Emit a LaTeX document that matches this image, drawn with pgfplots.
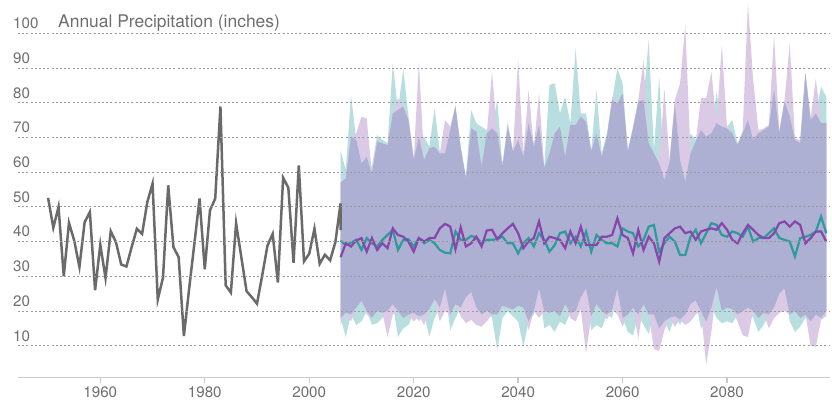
\documentclass[border=0pt]{standalone}
\usepackage{pgfplots}
\usepackage{pgfplotstable}
\pgfplotsset{compat=1.18}
\usepgfplotslibrary{fillbetween}
\usepackage{fontspec}
\setmainfont{TeX Gyre Heros}
\definecolor{histgray}{HTML}{6A6A6A}
\definecolor{tealline}{HTML}{2E9A9C}
\definecolor{purpline}{HTML}{8646AC}
\definecolor{tealband}{HTML}{B8DEDF}
\definecolor{purpband}{HTML}{DBCAE5}
\definecolor{overband}{HTML}{ADB0D2}
\definecolor{gridc}{HTML}{9A9A9A}
\definecolor{labelc}{HTML}{6E6E6E}
\definecolor{axisc}{HTML}{C8C8C8}

\pgfplotstableread{
year val
1950 52.6
1951 44.0
1952 50.0
1953 30.0
1954 45.4
1955 40.3
1956 32.7
1957 45.6
1958 48.5
1959 26.0
1960 39.1
1961 29.5
1962 43.0
1963 39.8
1964 33.4
1965 32.8
1966 38.4
1967 43.7
1968 42.2
1969 51.4
1970 56.7
1971 23.3
1972 29.6
1973 56.2
1974 38.4
1975 35.5
1976 12.8
1977 26.3
1978 39.3
1979 52.4
1980 32.0
1981 49.0
1982 52.4
1983 78.9
1984 27.4
1985 25.3
1986 45.3
1987 35.5
1988 25.7
1989 24.0
1990 22.1
1991 30.3
1992 38.8
1993 42.2
1994 28.2
1995 58.4
1996 55.5
1997 33.9
1998 61.9
1999 34.3
2000 36.5
2001 43.7
2002 33.6
2003 36.2
2004 34.6
2005 39.8
2006 51.0
2006 43.3
}\hist

% tu/tl: teal band, pu/pl: purple band, du/dl: edges of the region where both overlap
\pgfplotstableread{
year tu pu tl pl tm pm du dl
2006 66.4 57.0 18.0 16.0 40.3 35.5 57.0 18.0
2007 60.6 58.2 12.5 19.5 39.0 39.5 58.2 19.5
2008 82.2 70.2 19.0 17.0 39.7 38.6 70.2 19.0
2009 69.3 71.2 16.0 21.0 40.5 40.3 69.3 21.0
2010 62.5 76.0 17.0 23.0 37.6 41.0 62.5 23.0
2011 64.4 75.5 20.0 19.0 41.0 37.1 64.4 20.0
2012 61.6 59.6 16.0 18.0 39.5 41.0 59.6 18.0
2013 70.7 68.8 16.5 20.0 38.6 37.6 68.8 20.0
2014 69.3 68.3 18.0 19.5 40.5 39.5 68.3 19.5
2015 68.3 67.8 20.0 12.5 41.9 38.1 67.8 20.0
2016 91.3 76.9 22.0 19.0 43.4 43.8 76.9 22.0
2017 77.9 81.3 12.5 20.0 37.6 41.9 77.9 20.0
2018 89.9 78.9 15.0 18.0 40.5 41.4 78.9 18.0
2019 76.0 75.0 16.0 19.0 40.7 40.0 75.0 19.0
2020 64.4 63.5 19.5 17.0 38.6 37.1 63.5 19.5
2021 70.2 91.8 17.0 18.5 41.0 41.0 70.2 18.5
2022 70.2 63.5 19.0 16.0 39.5 40.0 63.5 19.0
2023 67.3 66.9 12.6 20.5 40.5 41.0 66.9 20.5
2024 78.4 67.3 18.0 23.5 39.5 41.0 67.3 23.5
2025 65.9 65.4 21.0 17.0 37.6 43.8 65.4 21.0
2026 65.4 75.0 26.5 20.0 36.8 45.1 65.4 26.5
2027 72.1 73.1 14.5 19.0 36.6 44.3 72.1 19.0
2028 78.9 79.3 18.0 22.0 42.9 37.8 78.9 22.0
2029 67.3 66.9 21.0 18.5 40.5 44.1 66.9 21.0
2030 58.7 58.2 24.0 16.5 40.5 38.6 58.2 24.0
2031 77.9 72.6 25.5 17.5 41.6 39.5 72.6 25.5
2032 74.1 71.7 21.0 16.0 41.2 41.4 71.7 21.0
2033 73.1 61.6 19.0 15.5 39.5 38.6 61.6 19.0
2034 72.1 71.2 20.0 17.0 40.5 43.2 71.2 20.0
2035 72.6 88.9 18.0 19.0 40.5 43.4 72.6 19.0
2036 80.8 71.2 8.8 19.0 40.7 40.7 71.2 19.0
2037 61.6 62.5 18.0 21.5 41.4 42.4 61.6 21.5
2038 74.5 73.1 20.0 21.0 39.5 43.8 73.1 21.0
2039 66.4 65.9 18.5 20.5 39.5 45.1 65.9 20.5
2040 69.3 92.5 17.0 21.5 36.6 42.4 69.3 21.5
2041 64.4 65.4 9.7 21.0 39.5 38.1 64.4 21.0
2042 74.1 83.7 17.0 14.5 41.0 40.0 74.1 17.0
2043 68.3 67.3 19.0 20.0 38.6 41.0 67.3 20.0
2044 73.6 82.7 26.5 18.0 42.4 45.8 73.6 26.5
2045 61.6 61.1 15.0 20.0 40.5 39.5 61.1 20.0
2046 85.1 65.4 16.0 19.5 37.1 41.4 65.4 19.5
2047 85.6 71.2 14.0 20.0 39.0 41.0 71.2 20.0
2048 76.9 73.1 17.0 18.5 42.4 40.5 73.1 18.5
2049 81.7 64.4 16.0 22.0 42.9 38.1 64.4 22.0
2050 74.1 73.6 19.5 18.0 39.5 42.9 73.6 19.5
2051 95.7 73.6 20.0 17.0 41.4 39.5 73.6 20.0
2052 76.9 76.0 24.0 20.5 38.6 44.3 76.0 24.0
2053 76.9 74.5 26.5 7.8 42.9 39.0 74.5 26.5
2054 66.4 65.9 14.5 18.5 37.1 39.0 65.9 18.5
2055 83.7 71.2 16.0 22.0 41.9 39.0 71.2 22.0
2056 65.4 64.4 15.0 20.0 40.5 41.4 64.4 20.0
2057 71.2 70.2 19.0 17.5 39.5 41.4 70.2 19.0
2058 80.8 81.7 18.0 20.5 39.5 41.9 80.8 20.5
2059 89.9 79.8 26.5 19.0 38.6 46.7 79.8 26.5
2060 85.6 82.7 18.0 15.5 43.8 41.9 82.7 18.0
2061 66.4 65.9 14.0 19.0 42.9 41.0 65.9 19.0
2062 73.1 72.6 13.0 21.0 42.4 36.6 72.6 21.0
2063 80.3 80.8 19.0 12.0 38.6 43.4 80.3 19.0
2064 80.8 92.3 16.0 22.0 40.5 37.6 80.8 22.0
2065 98.1 68.3 13.5 19.0 44.3 41.4 68.3 19.0
2066 66.4 65.4 19.0 9.0 44.8 39.5 65.4 19.0
2067 87.5 62.5 15.0 8.5 37.1 34.2 62.5 15.0
2068 57.7 84.1 17.0 14.5 39.5 41.0 57.7 17.0
2069 63.5 63.0 14.0 18.0 41.4 42.4 63.0 18.0
2070 79.8 80.8 18.5 15.5 40.0 43.8 79.8 18.5
2071 63.5 85.6 16.0 17.5 36.1 44.3 63.5 17.5
2072 57.2 102.4 19.0 16.0 36.1 42.4 57.2 19.0
2073 71.2 65.4 22.0 17.0 41.4 42.9 65.4 22.0
2074 69.3 68.8 23.0 19.0 43.4 40.5 68.8 23.0
2075 72.1 81.3 15.0 20.0 39.5 42.9 72.1 20.0
2076 70.2 81.3 17.0 4.5 42.4 43.4 70.2 17.0
2077 71.2 88.9 21.0 14.0 45.3 43.8 71.2 21.0
2078 83.2 74.1 18.0 27.0 44.8 43.4 74.1 27.0
2079 73.1 96.6 16.5 20.0 41.9 45.3 73.1 20.0
2080 73.1 72.6 17.0 21.0 41.4 43.4 72.6 21.0
2081 75.0 71.2 16.5 20.5 42.9 40.5 71.2 20.5
2082 68.3 67.8 19.0 17.0 42.4 39.5 67.8 19.0
2083 71.2 72.1 20.0 13.0 41.4 42.4 71.2 20.0
2084 75.0 108.8 21.0 12.5 44.3 44.8 75.0 21.0
2085 69.3 86.5 18.0 20.0 40.0 43.4 69.3 20.0
2086 71.2 72.1 14.0 18.0 41.0 41.9 71.2 18.0
2087 72.1 72.6 16.0 19.5 41.0 41.0 72.1 19.5
2088 73.1 73.6 19.0 15.0 42.4 41.0 73.1 19.0
2089 83.7 99.5 21.0 18.0 43.8 42.4 83.7 21.0
2090 71.2 72.1 25.0 19.5 41.0 45.3 71.2 25.0
2091 80.3 80.8 26.5 20.0 40.5 45.8 80.3 26.5
2092 76.0 97.1 17.0 19.0 40.0 44.3 76.0 19.0
2093 69.3 69.7 14.0 20.0 35.7 45.8 69.3 20.0
2094 68.3 69.3 15.5 18.0 41.0 44.8 68.3 18.0
2095 88.5 88.9 18.0 19.0 41.4 39.5 88.5 19.0
2096 75.0 75.5 17.0 10.0 41.9 41.0 75.0 17.0
2097 76.9 87.0 19.0 9.7 42.9 42.9 76.9 19.0
2098 84.6 74.1 18.0 17.5 47.2 42.9 74.1 18.0
2099 81.7 74.1 20.0 18.5 42.4 40.0 74.1 20.0
}\proj

\begin{document}
\begin{tikzpicture}
\begin{axis}[
  at={(18bp,25.3bp)}, anchor=south west,
  scale only axis, width=812bp, height=377.7bp,
  xmin=1944.24, xmax=2099.71, ymin=0.78, ymax=109.6,
  axis on top,
  axis lines=left,
  axis line style={-},
  y axis line style={draw=none},
  x axis line style={draw=axisc, line width=1.5bp},
  xtick={1960,1980,...,2080},
  ytick={10,20,...,100},
  xticklabel style={/pgf/number format/1000 sep={}},
  /pgf/number format/assume math mode=true,
  ticklabel style={font=\fontsize{15.2}{17}\selectfont, text=labelc},
  yticklabel style={anchor=base west, inner sep=0pt, xshift=0bp, yshift=4.6bp},
  xticklabel style={anchor=north, inner sep=0pt, yshift=-4bp},
  tick align=outside,
  ytick style={draw=none},
  xtick style={draw=axisc, line width=1.3bp},
  major tick length=5bp,
  ymajorgrids,
  grid style={gridc, line width=0.9bp, dash pattern=on 2bp off 2.2bp},
  clip=false,
]
\addplot[name path=tu, draw=none, forget plot] table[x=year,y=tu]{\proj};
\addplot[name path=tl, draw=none, forget plot] table[x=year,y=tl]{\proj};
\addplot[name path=pu, draw=none, forget plot] table[x=year,y=pu]{\proj};
\addplot[name path=pl, draw=none, forget plot] table[x=year,y=pl]{\proj};
\addplot[name path=du, draw=none, forget plot] table[x=year,y=du]{\proj};
\addplot[name path=dl, draw=none, forget plot] table[x=year,y=dl]{\proj};
\addplot[histgray, line width=2.5bp] table[x=year,y=val]{\hist};
\addplot[fill=tealband, draw=none] fill between[of=tu and tl];
\addplot[fill=purpband, draw=none] fill between[of=pu and pl];
\addplot[fill=overband, draw=none] fill between[of=du and dl];
\addplot[tealline, line width=2.2bp] table[x=year,y=tm]{\proj};
\addplot[purpline, line width=2.2bp] table[x=year,y=pm]{\proj};
\node[anchor=base west, inner sep=0pt, font=\fontsize{17.5}{20}\selectfont, text=labelc] at (axis cs:1951.9,101.6) {Annual Precipitation (inches)};
\end{axis}
\pgfresetboundingbox
\path[use as bounding box] (0,0) rectangle (832bp,403bp);
\end{tikzpicture}
\end{document}
